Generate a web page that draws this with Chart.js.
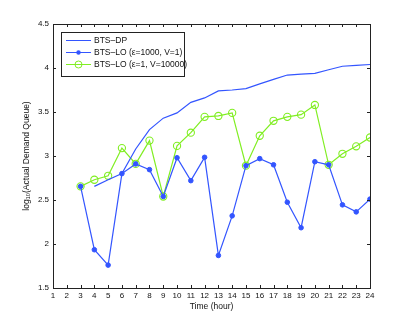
<!DOCTYPE html>
<html>
<head>
<meta charset="utf-8">
<script src="https://cdn.jsdelivr.net/npm/chart.js@4/dist/chart.umd.min.js"></script>
<style>
  html, body { margin: 0; padding: 0; background: #fff; }
  #wrap { width: 409px; height: 324px; }
</style>
</head>
<body>
<div id="wrap"><canvas id="chart" width="409" height="324"></canvas></div>
<script>
// hours on x axis
const hoursDP = [4, 5, 6, 7, 8, 9, 10, 11, 12, 13, 14, 15, 16, 17, 18, 19, 20, 21, 22, 23, 24];
const hoursLO = [3, 4, 5, 6, 7, 8, 9, 10, 11, 12, 13, 14, 15, 16, 17, 18, 19, 20, 21, 22, 23, 24];

// log10 of actual demand queue
const btsDP = [2.655, 2.73, 2.80, 3.08, 3.30, 3.43, 3.49, 3.61, 3.66, 3.74, 3.75, 3.765, 3.82, 3.87, 3.92, 3.93, 3.94, 3.98, 4.02, 4.03, 4.04];
const btsLO1000 = [2.655, 1.935, 1.76, 2.80, 2.91, 2.845, 2.54, 2.98, 2.72, 2.985, 1.87, 2.32, 2.89, 2.97, 2.90, 2.475, 2.185, 2.935, 2.90, 2.445, 2.365, 2.51];
const btsLO1 = [2.655, 2.73, 2.775, 3.09, 2.91, 3.175, 2.54, 3.115, 3.265, 3.445, 3.455, 3.49, 2.89, 3.23, 3.40, 3.445, 3.47, 3.58, 2.90, 3.025, 3.11, 3.21];

const seriesNames = ['BTS\u2013DP', 'BTS\u2013LO (\u03b5=1000, V=1)', 'BTS\u2013LO (\u03b5=1, V=10000)'];
const xTicks = [1, 24];
const yTicks = [1.5, 4.5];

const blue = '#3355ff';
const green = '#80ee22';
const font = '"Liberation Sans", Arial, sans-serif';

function pts(xs, ys) {
    return xs.map((x, i) => ({ x: x, y: ys[i] }));
}

// box, inward ticks on all four sides
const boxTicks = {
    id: 'boxTicks',
    afterDraw(chart) {
        const ctx = chart.ctx;
        const a = chart.chartArea;
        const xs = chart.scales.x, ys = chart.scales.y;
        ctx.save();
        ctx.strokeStyle = '#222';
        ctx.lineWidth = 1;
        ctx.beginPath();
        xs.ticks.forEach(t => {
            const px = Math.round(xs.getPixelForValue(t.value)) + 0.5;
            ctx.moveTo(px, a.bottom); ctx.lineTo(px, a.bottom - 3);
            ctx.moveTo(px, a.top); ctx.lineTo(px, a.top + 3);
        });
        ys.ticks.forEach(t => {
            const py = Math.round(ys.getPixelForValue(t.value)) + 0.5;
            ctx.moveTo(a.left, py); ctx.lineTo(a.left + 3, py);
            ctx.moveTo(a.right, py); ctx.lineTo(a.right - 3, py);
        });
        ctx.stroke();
        ctx.strokeRect(Math.round(a.left) + 0.5, Math.round(a.top) + 0.5,
            Math.round(a.right - a.left), Math.round(a.bottom - a.top));
        ctx.restore();
    }
};

// legend box in upper left corner of the plot
const innerLegend = {
    id: 'innerLegend',
    afterDraw(chart) {
        const ctx = chart.ctx;
        const a = chart.chartArea;
        const x0 = a.left + 8, y0 = a.top + 8, w = 123, h = 44;
        ctx.save();
        ctx.fillStyle = '#fff';
        ctx.fillRect(x0, y0, w, h);
        ctx.strokeStyle = '#222';
        ctx.lineWidth = 1;
        ctx.strokeRect(x0 + 0.5, y0 + 0.5, w, h);
        chart.data.datasets.forEach((ds, i) => {
            const yy = y0 + 8.5 + i * 12;
            ctx.strokeStyle = ds.borderColor;
            ctx.beginPath();
            ctx.moveTo(x0 + 5, yy); ctx.lineTo(x0 + 30, yy);
            ctx.stroke();
            if (i === 1) {
                ctx.fillStyle = ds.pointBackgroundColor;
                ctx.beginPath(); ctx.arc(x0 + 17.5, yy, 2.2, 0, Math.PI * 2); ctx.fill();
            } else if (i === 2) {
                ctx.beginPath(); ctx.arc(x0 + 17.5, yy, 3.5, 0, Math.PI * 2); ctx.stroke();
            }
            ctx.fillStyle = '#111';
            ctx.font = '8.5px ' + font;
            ctx.textBaseline = 'middle';
            ctx.fillText(ds.label, x0 + 33, yy + 0.5);
        });
        ctx.restore();
    }
};

new Chart(document.getElementById('chart').getContext('2d'), {
    type: 'line',
    data: {
        datasets: [{
            label: seriesNames[0],
            data: pts(hoursDP, btsDP),
            borderColor: blue,
            borderWidth: 1.2,
            pointRadius: 0,
            tension: 0
        }, {
            label: seriesNames[1],
            data: pts(hoursLO, btsLO1000),
            borderColor: blue,
            borderWidth: 1.2,
            pointStyle: 'circle',
            pointRadius: 2.3,
            pointBackgroundColor: blue,
            pointBorderColor: blue,
            pointBorderWidth: 1,
            tension: 0
        }, {
            label: seriesNames[2],
            data: pts(hoursLO, btsLO1),
            borderColor: green,
            borderWidth: 1.2,
            pointStyle: 'circle',
            pointRadius: 3.6,
            pointBackgroundColor: 'rgba(0,0,0,0)',
            pointBorderColor: green,
            pointBorderWidth: 1.1,
            tension: 0
        }]
    },
    options: {
        responsive: false,
        animation: false,
        layout: { padding: { top: 24, right: 39, left: 22, bottom: 12 } },
        plugins: {
            legend: { display: false },
            tooltip: { enabled: false }
        },
        scales: {
            x: {
                type: 'linear',
                min: xTicks[0],
                max: xTicks[1],
                grid: { display: false, drawTicks: false },
                border: { display: false },
                ticks: {
                    stepSize: 1,
                    autoSkip: false,
                    maxRotation: 0,
                    padding: 3,
                    color: '#111',
                    font: { family: font, size: 8 }
                },
                title: {
                    display: true,
                    text: 'Time (hour)',
                    color: '#111',
                    padding: { top: 0, bottom: 0 },
                    font: { family: font, size: 8.5 }
                },
                afterFit(scale) { scale.height = 24; }
            },
            y: {
                min: yTicks[0],
                max: yTicks[1],
                grid: { display: false, drawTicks: false },
                border: { display: false },
                ticks: {
                    stepSize: 0.5,
                    padding: 4,
                    color: '#111',
                    font: { family: font, size: 8 },
                    callback: (v) => String(v)
                },
                title: {
                    display: true,
                    text: 'log\u2081\u2080(Actual Demand Queue)',
                    color: '#111',
                    padding: { top: 0, bottom: 0 },
                    font: { family: font, size: 8.5 }
                },
                afterFit(scale) { scale.width = 31; }
            }
        }
    },
    plugins: [boxTicks, innerLegend]
});
</script>
</body>
</html>
